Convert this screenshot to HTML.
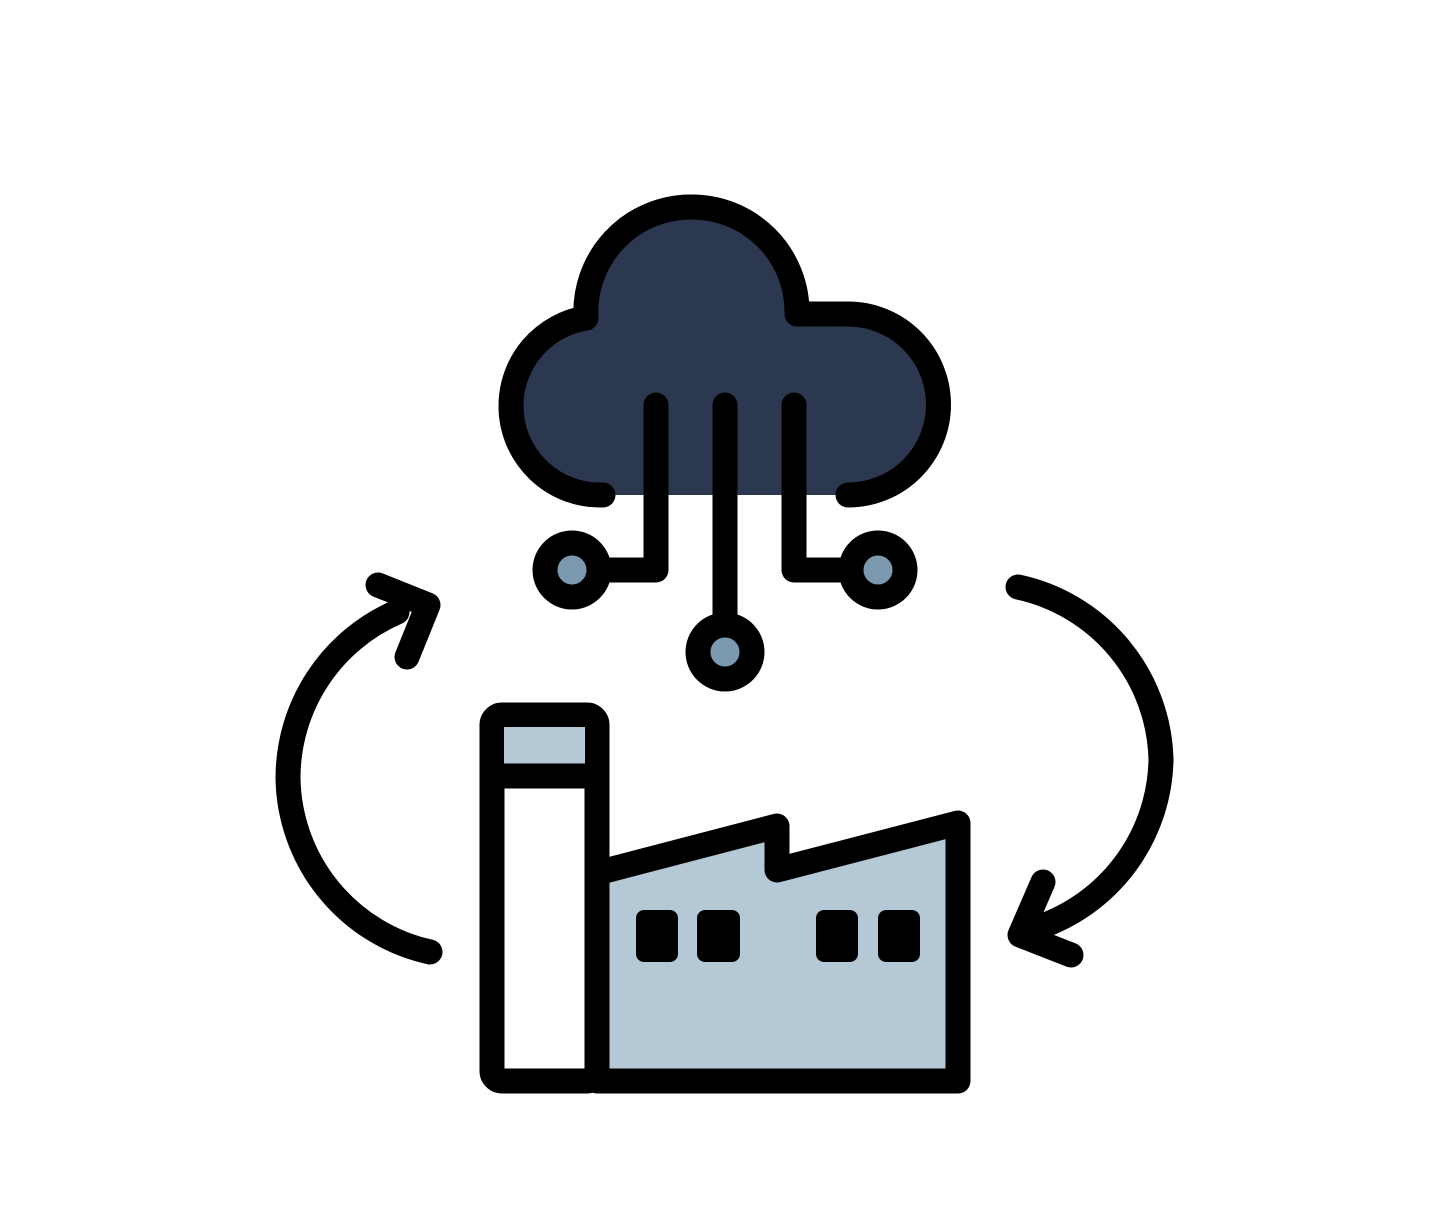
<!DOCTYPE html>
<html><head><style>html,body{margin:0;padding:0;background:#fff}svg{display:block}</style></head>
<body>
<svg width="1440" height="1211" viewBox="0 0 1440 1211" xmlns="http://www.w3.org/2000/svg">
<g stroke="#000" stroke-width="25" stroke-linecap="round" stroke-linejoin="round" fill="none">
<path d="M603,495 A89,89 0 0 1 511,406 A89,89 0 0 1 586,318 A105,105 0 0 1 690,207 A105,105 0 0 1 797,314 L848,314 A90.5,90.5 0 0 1 848,495 Z" fill="#2c3750" stroke="none"/>
<path d="M603,495 A89,89 0 0 1 511,406 A89,89 0 0 1 586,318 A105,105 0 0 1 690,207 A105,105 0 0 1 797,314 L848,314 A90.5,90.5 0 0 1 848,495"/>
<path d="M656,405 V570 H600"/>
<path d="M725,405 V625"/>
<path d="M794,405 V570 H850"/>
<circle cx="572" cy="570" r="27" fill="#7b9ab0"/>
<circle cx="725" cy="652" r="27" fill="#7b9ab0"/>
<circle cx="878" cy="570" r="27" fill="#7b9ab0"/>
<path d="M597,873 L777,826 L777,870 L958,823 L958,1081 L597,1081 Z" fill="#b5c8d6"/>
<rect x="492" y="715" width="105" height="366" rx="10" fill="#fff"/>
<rect x="504" y="727" width="81" height="37" fill="#b5c8d6" stroke="none"/>
<path d="M495,776 H595"/>
<path d="M430,952 A181,181 0 0 1 288,778 A181,181 0 0 1 397,612"/>
<path d="M378,585 L428,605 L407,657"/>
<path d="M1018,587 A181,181 0 0 1 1161,760 A181,181 0 0 1 1045,925"/>
<path d="M1043,882 L1020,935 L1071,955"/>
</g>
<g fill="#000">
<rect x="636" y="910" width="42" height="52" rx="8"/>
<rect x="697" y="910" width="43" height="52" rx="8"/>
<rect x="816" y="910" width="42" height="52" rx="8"/>
<rect x="878" y="910" width="42" height="52" rx="8"/>
</g>
</svg>
</body></html>
